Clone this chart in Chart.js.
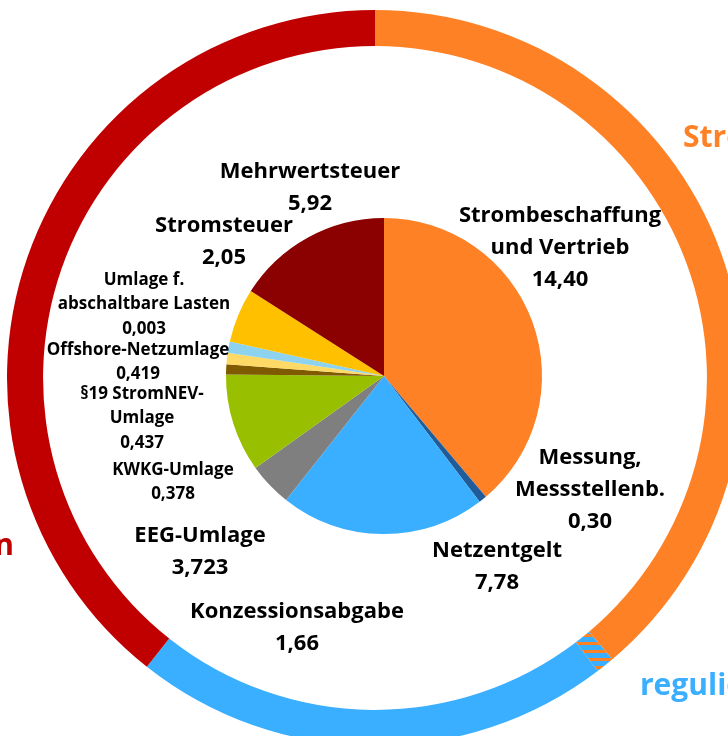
<!DOCTYPE html>
<html>
<head>
<meta charset="utf-8">
<script src="https://cdn.jsdelivr.net/npm/chart.js@4.4.0/dist/chart.umd.min.js"></script>
<style>
  html, body { margin: 0; padding: 0; background: #fff; overflow: hidden; }
  #wrap { position: relative; width: 728px; height: 736px; overflow: hidden; }
  #ring { position: absolute; left: 7px; top: 10px; }
  #pie { position: absolute; left: 0; top: 0; }
</style>
</head>
<body>
<div id="wrap">
  <canvas id="ring" width="736" height="736"></canvas>
  <canvas id="pie" width="728" height="736"></canvas>
</div>
<script>
// price components (ct/kWh)
const categories = [
  'Strombeschaffung\nund Vertrieb', 'Messung,\nMessstellenb.', 'Netzentgelt',
  'Konzessionsabgabe', 'EEG-Umlage', 'KWKG-Umlage', '§19 StromNEV-\nUmlage',
  'Offshore-Netzumlage', 'Umlage f.\nabschaltbare Lasten', 'Stromsteuer', 'Mehrwertsteuer'
];
const values = [14.40, 0.30, 7.78, 1.66, 3.723, 0.378, 0.437, 0.419, 0.003, 2.05, 5.92];
const valueLabels = ['14,40', '0,30', '7,78', '1,66', '3,723', '0,378', '0,437', '0,419', '0,003', '2,05', '5,92'];
const colors = ['#FF8126', '#1F5C99', '#3AAEFF', '#7F7F7F', '#99C000', '#7F5A00',
  '#FFD966', '#8DD2EE', '#FFE699', '#FFC000', '#8B0000'];

// outer ring groups
const groupNames = ['Strombeschaffung und Vertrieb', 'Messung', 'reguliert', 'Steuern, Abgaben und Umlagen'];
const groupOf = [0, 1, 2, 3, 3, 3, 3, 3, 3, 3, 3];

const ringValues = groupNames.map((g, gi) =>
  values.reduce((s, v, i) => s + (groupOf[i] === gi ? v : 0), 0));

// label anchors (center of text block) and font size
const labelPos = [
  [560, 216, 22], [590, 458, 22], [497, 551, 22], [297, 612, 22], [200, 536, 22],
  [173, 470, 17], [142, 394, 17], [138, 350, 17], [144, 280, 17], [224, 226, 22], [310, 172, 22]
];

function hatch() {
  const c = document.createElement('canvas');
  c.width = 8; c.height = 8;
  const x = c.getContext('2d');
  x.fillStyle = '#3AAEFF';
  x.fillRect(0, 0, 8, 8);
  x.fillStyle = '#FF8126';
  x.fillRect(0, 0, 8, 3);
  return x.createPattern(c, 'repeat');
}

new Chart(document.getElementById('ring'), {
  type: 'doughnut',
  data: {
    labels: groupNames,
    datasets: [{
      data: ringValues,
      backgroundColor: ['#FF8126', hatch(), '#3AAEFF', '#C00000'],
      borderWidth: 0
    }]
  },
  options: {
    responsive: false,
    animation: false,
    cutout: '90.2%',
    plugins: { legend: { display: false }, tooltip: { enabled: false } }
  }
});

const labelPlugin = {
  id: 'labels',
  afterDraw(chart) {
    const ctx = chart.ctx;
    ctx.save();
    ctx.textAlign = 'center';
    ctx.textBaseline = 'middle';
    ctx.fillStyle = '#000';
    categories.forEach((cat, i) => {
      const [x, y, fs] = labelPos[i];
      const lines = cat.split('\n').concat(valueLabels[i]);
      const lh = fs > 18 ? 32 : 24.5;
      ctx.font = 'bold ' + fs + 'px "Open Sans", sans-serif';
      lines.forEach((ln, k) => ctx.fillText(ln, x, y + k * lh));
    });
    // ring titles (clipped by page edge)
    ctx.font = 'bold 30px "Open Sans", sans-serif';
    ctx.textAlign = 'left';
    ctx.fillStyle = '#FF8126';
    ctx.fillText('Strombeschaffung', 683, 138);
    ctx.fillStyle = '#3AAEFF';
    ctx.fillText('reguliert', 640, 686);
    ctx.textAlign = 'right';
    ctx.fillStyle = '#C00000';
    ctx.fillText('Steuern, Abgaben, Umlagen', 14, 546);
    ctx.restore();
  }
};

new Chart(document.getElementById('pie'), {
  type: 'pie',
  data: {
    labels: categories,
    datasets: [{
      data: values,
      backgroundColor: colors,
      borderWidth: 0
    }]
  },
  options: {
    responsive: false,
    animation: false,
    layout: { padding: { left: 226, right: 186, top: 218, bottom: 202 } },
    plugins: { legend: { display: false }, tooltip: { enabled: false } }
  },
  plugins: [labelPlugin]
});
</script>
</body>
</html>
